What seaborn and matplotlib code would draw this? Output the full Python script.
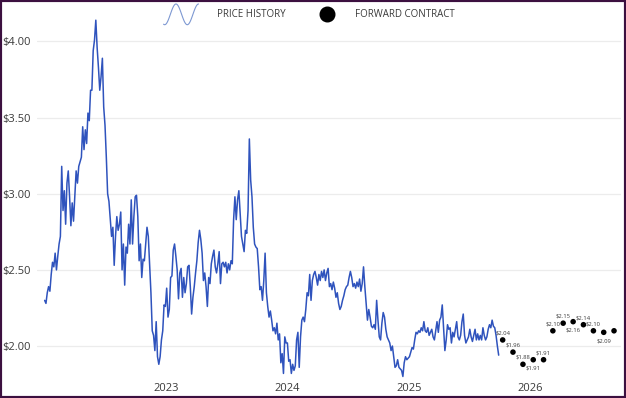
import numpy as np
import pandas as pd
import matplotlib
matplotlib.use("Agg")
import matplotlib.pyplot as plt
import seaborn as sns
from matplotlib.legend_handler import HandlerBase
from matplotlib.lines import Line2D
from matplotlib.patches import Rectangle

# =========================================
# DATA
# =========================================

# price history, roughly twice a week, Jan 2022 -> end of Sep 2025
price_history = [
    2.30, 2.28, 2.35, 2.39, 2.36, 2.47, 2.55, 2.52, 2.61, 2.50, 2.59, 2.67, 2.72, 3.18, 2.89,
    3.02, 2.80, 3.07, 3.15, 2.98, 2.79, 2.94, 2.82, 2.98, 3.15, 3.07, 3.18, 3.21, 3.24, 3.44,
    3.29, 3.42, 3.33, 3.53, 3.48, 3.68, 3.68, 3.94, 4.01, 4.14, 3.96, 3.83, 3.68, 3.77, 3.89,
    3.57, 3.45, 3.24, 3.00, 2.95, 2.83, 2.72, 2.78, 2.53, 2.72, 2.85, 2.76,
    2.80, 2.88, 2.50, 2.67, 2.40, 2.65, 2.61, 2.80, 2.67, 2.96, 2.67, 2.85, 2.98, 2.99, 2.85,
    2.56, 2.67, 2.45, 2.57, 2.56, 2.67, 2.78, 2.72, 2.54, 2.35, 2.10, 2.07, 1.97, 2.16, 1.93,
    1.88, 1.93, 2.04, 2.10, 2.27, 2.26, 2.38, 2.19, 2.24, 2.45, 2.46, 2.63, 2.67, 2.59, 2.50,
    2.31, 2.48, 2.51, 2.32, 2.45, 2.35, 2.41, 2.52, 2.53, 2.39, 2.21, 2.32, 2.39, 2.48, 2.56,
    2.68,
    2.76, 2.70, 2.61, 2.43, 2.48, 2.39, 2.26, 2.45, 2.41, 2.54, 2.59, 2.63, 2.52, 2.48, 2.54,
    2.62, 2.41, 2.54, 2.55, 2.52, 2.55, 2.48, 2.54, 2.50, 2.56, 2.54, 2.83, 2.98, 2.83, 2.96,
    3.02, 2.87, 2.72, 2.67, 2.62, 2.76, 2.74, 2.89, 3.36, 3.09, 2.98, 2.78, 2.67, 2.65, 2.64,
    2.52, 2.37, 2.39, 2.30, 2.43, 2.61, 2.35, 2.26, 2.19, 2.23, 2.17, 2.10, 2.12, 2.08,
    2.15, 2.04, 2.08, 1.89, 1.95, 1.82, 2.06, 2.02, 2.02, 1.90, 1.91, 1.82, 1.88, 1.84, 1.87,
    2.04, 2.09, 1.86, 2.06, 2.17, 2.19, 2.16, 2.24, 2.35, 2.33, 2.47, 2.30, 2.43, 2.47, 2.49,
    2.45, 2.40, 2.47, 2.43, 2.49, 2.45, 2.50, 2.43, 2.48, 2.51, 2.39, 2.41, 2.37, 2.42, 2.38,
    2.32, 2.35, 2.28, 2.24, 2.26, 2.30, 2.33, 2.37, 2.39, 2.40, 2.45, 2.49, 2.45, 2.39,
    2.41, 2.38, 2.42, 2.39, 2.44, 2.36, 2.41, 2.52, 2.39, 2.28, 2.17, 2.24, 2.19, 2.13, 2.12,
    2.14, 2.11, 2.30, 2.17, 2.06, 2.04, 2.15, 2.22, 2.19, 2.11, 2.06, 2.04, 2.02, 1.97, 2.00,
    1.93, 1.86, 1.87, 1.91, 1.86, 1.85, 1.84, 1.80, 1.89, 1.93, 1.91, 1.92, 1.93, 1.96, 1.99,
    1.98, 2.04, 2.09, 2.08, 2.10, 2.09, 2.12, 2.10, 2.16, 2.10, 2.09, 2.12, 2.07, 2.09,
    2.11, 2.06, 2.04, 2.10, 2.16, 2.09, 2.17, 2.19, 2.27, 2.12, 1.97, 2.04, 2.14, 2.11, 2.12,
    2.02, 2.09, 2.06, 2.11, 2.16, 2.06, 2.04, 2.07, 2.16, 2.21, 2.07, 2.02, 2.04, 2.06, 2.11,
    2.06, 2.03, 2.07, 2.11, 2.04, 2.08, 2.04, 2.07, 2.04, 2.12, 2.07, 2.04, 2.06, 2.11, 2.14,
    2.12, 2.17, 2.13, 2.12, 2.07, 2.00, 1.94,
]
history_start = "2022-01-01"
history_end = "2025-09-28"

forward_months = ["2025-10-10", "2025-11-10", "2025-12-10", "2026-01-10", "2026-02-10",
                  "2026-03-10", "2026-04-10", "2026-05-10", "2026-06-10", "2026-07-10",
                  "2026-08-10", "2026-09-10"]
forward_prices = [2.04, 1.96, 1.88, 1.91, 1.91, 2.10, 2.15, 2.16, 2.14, 2.10, 2.09, 2.10]
forward_labels = ["$2.04", "$1.96", "$1.88", "$1.91", "$1.91", "$2.10", "$2.15", "$2.16",
                  "$2.14", "$2.10", "$2.09", ""]

year_ticks = ["2023", "2024", "2025", "2026"]
price_ticks = [2.00, 2.50, 3.00, 3.50, 4.00]

legend_labels = ["PRICE HISTORY", "FORWARD CONTRACT"]

# where each forward label sits relative to its dot (style only)
label_side = ["up", "up", "up", "down", "up", "up", "up", "down", "up", "up", "down", "up"]

# =========================================
# FRAMES
# =========================================

hist = pd.DataFrame({
    "date": pd.date_range(history_start, history_end, periods=len(price_history)),
    "price": price_history,
})
fwd = pd.DataFrame({"date": pd.to_datetime(forward_months), "price": forward_prices})

# =========================================
# STYLE
# =========================================

sns.set_theme(style="white")
plt.rcParams["font.family"] = ["Open Sans", "DejaVu Sans"]

LINE_BLUE = "#2f53bd"
ICON_BLUE = "#7d98d2"
TEXT = "#3a3a3a"


class SineHandler(HandlerBase):
    def create_artists(self, legend, orig_handle, xdescent, ydescent,
                       width, height, fontsize, trans):
        t = np.linspace(-0.6 * np.pi, 2.5 * np.pi, 80)
        xs = -xdescent + (t - t[0]) / (t[-1] - t[0]) * width
        ys = -ydescent + height * (0.5 + 0.5 * np.sin(t))
        wave = Line2D(xs, ys, color=ICON_BLUE, lw=0.8)
        wave.set_transform(trans)
        return [wave]


class DotHandler(HandlerBase):
    def create_artists(self, legend, orig_handle, xdescent, ydescent,
                       width, height, fontsize, trans):
        dot = Line2D([-xdescent + 0.72 * width], [-ydescent + 0.5 * height],
                     marker="o", ls="", color="black", markersize=10.5)
        dot.set_transform(trans)
        return [dot]


# =========================================
# PLOT
# =========================================

fig = plt.figure(figsize=(6.26, 3.98), dpi=100)
ax = fig.add_axes([37 / 626, 20 / 398, 584 / 626, 370 / 398])

sns.lineplot(data=hist, x="date", y="price", ax=ax, color=LINE_BLUE,
             lw=1.1, estimator=None)
sns.scatterplot(data=fwd, x="date", y="price", ax=ax, color="black",
                s=16, edgecolor="none", zorder=5)

for d, p, lab, side in zip(fwd["date"], fwd["price"], forward_labels, label_side):
    if not lab:
        continue
    dy = 5 if side == "up" else -6
    ax.annotate(lab, (d, p), xytext=(0, dy), textcoords="offset points",
                ha="center", va="center", fontsize=4.2, color=TEXT)

ax.set_xlim(pd.Timestamp("2021-12-09"), pd.Timestamp("2026-10-01"))
ax.set_ylim(1.79, 4.22)

ax.set_xticks(pd.to_datetime([y + "-01-01" for y in year_ticks]))
ax.set_xticklabels(year_ticks)
ax.set_yticks(price_ticks)
ax.set_yticklabels([f"${v:.2f}" for v in price_ticks])
ax.tick_params(axis="both", length=0, labelsize=8, colors=TEXT)
ax.tick_params(axis="x", pad=3.5)
ax.tick_params(axis="y", pad=4.5)

ax.set_xlabel("")
ax.set_ylabel("")
ax.yaxis.grid(True, color="#ececec", lw=0.9)
ax.xaxis.grid(False)
sns.despine(ax=ax, left=True, bottom=True)

h_price = Line2D([], [], color=ICON_BLUE)
h_fwd = Line2D([], [], marker="o", ls="", color="black")
fig.legend([h_price, h_fwd], legend_labels,
           handler_map={h_price: SineHandler(), h_fwd: DotHandler()},
           loc="upper center", bbox_to_anchor=(0.494, 1 - 4 / 398), ncol=2, frameon=False,
           fontsize=7, labelcolor=TEXT, handlelength=3.6, handleheight=2.9,
           handletextpad=1.85, columnspacing=1.75, borderpad=0, borderaxespad=0)

fig.patches.append(Rectangle((0, 0), 1, 1, transform=fig.transFigure, fill=False,
                             edgecolor="#3c1040", lw=3))

fig.savefig("out.png", dpi=100)
plt.close(fig)
